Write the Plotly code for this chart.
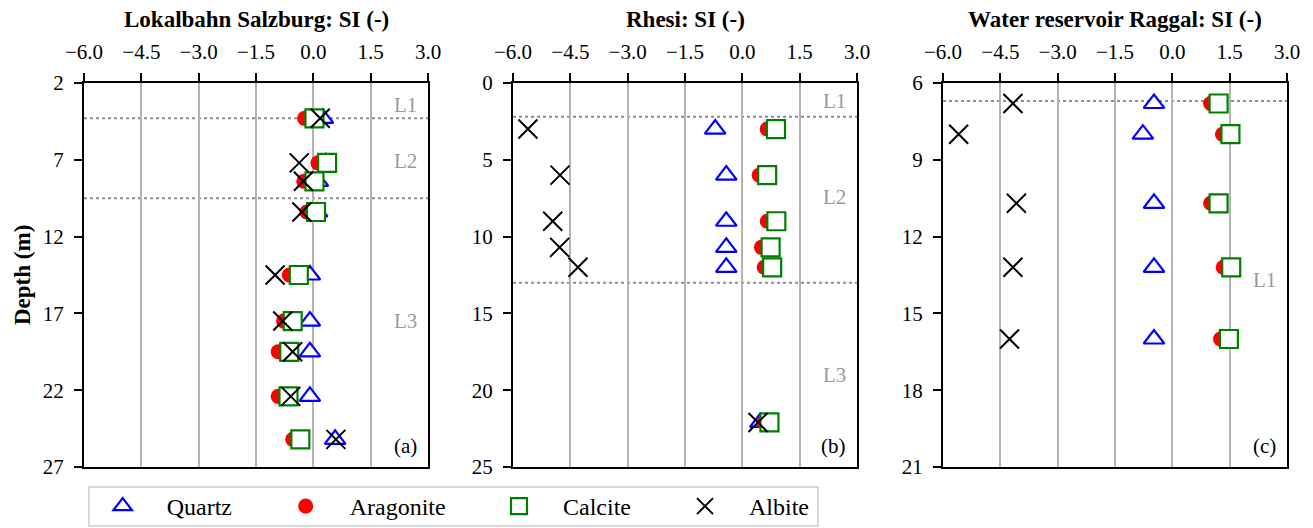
import plotly.graph_objects as go

# ---- data -------------------------------------------------------------
minerals = ["Quartz", "Aragonite", "Calcite", "Albite"]

# Lokalbahn Salzburg
depth_a = [4.3, 7.2, 8.4, 10.4, 14.5, 17.5, 19.5, 22.4, 25.2]
quartz_a = [0.25, 0.33, 0.12, 0.10, -0.09, -0.09, -0.09, -0.09, 0.57]
aragonite_a = [-0.23, 0.12, -0.25, -0.17, -0.63, -0.78, -0.92, -0.92, -0.54]
calcite_a = [0.03, 0.36, 0.03, 0.07, -0.38, -0.54, -0.63, -0.65, -0.34]
albite_a = [0.18, -0.37, -0.26, -0.30, -1.00, -0.80, -0.54, -0.59, 0.59]
layers_a = [4.3, 9.5]
layer_names_a = ["L1", "L2", "L3"]
layer_label_depth_a = [3.4, 7.1, 17.5]

# Rhesi
depth_b = [3.0, 6.0, 9.0, 10.7, 12.0, 22.1]
quartz_b = [-0.71, -0.42, -0.42, -0.42, -0.42, 0.47]
aragonite_b = [0.65, 0.44, 0.65, 0.50, 0.57, 0.56]
calcite_b = [0.88, 0.65, 0.89, 0.74, 0.78, 0.71]
albite_b = [-5.61, -4.77, -4.96, -4.78, -4.30, 0.41]
layers_b = [2.2, 13.0]
layer_names_b = ["L1", "L2", "L3"]
layer_label_depth_b = [1.2, 7.4, 19.0]

# Water reservoir Raggal
depth_c = [6.8, 8.0, 10.7, 13.2, 16.0]
quartz_c = [-0.48, -0.77, -0.48, -0.48, -0.48]
aragonite_c = [1.00, 1.31, 1.00, 1.33, 1.26]
calcite_c = [1.21, 1.52, 1.21, 1.54, 1.48]
albite_c = [-4.17, -5.59, -4.08, -4.17, -4.26]
layers_c = [6.7]
layer_names_c = ["L1"]
layer_label_depth_c = [13.7]

titles = ["Lokalbahn Salzburg: SI (-)", "Rhesi: SI (-)", "Water reservoir Raggal: SI (-)"]
panel_tags = ["(a)", "(b)", "(c)"]

si_ticks = [-6.0, -4.5, -3.0, -1.5, 0.0, 1.5, 3.0]
depth_ticks_a = [2, 7, 12, 17, 22, 27]
depth_ticks_b = [0, 5, 10, 15, 20, 25]
depth_ticks_c = [6, 9, 12, 15, 18, 21]

# ---- figure geometry ----------------------------------------------------
W, H = 1313, 528
FONT = "Liberation Serif"
panel_px = [(84, 428), (513, 857), (943, 1287)]
y_top_px, y_bot_px = 83, 467
y_dom = [1 - y_bot_px / H, 1 - y_top_px / H]


def fmt(v):
    s = f"{abs(v):.1f}"
    return ("\u2212" + s) if v < 0 else s


marker_styles = {
    "Quartz": dict(symbol="triangle-up", size=18, color="white",
                   line=dict(color="#0000ff", width=2.2)),
    "Aragonite": dict(symbol="circle", size=15, color="#ff0000",
                      line=dict(width=0)),
    "Calcite": dict(symbol="square", size=18, color="white",
                    line=dict(color="#008000", width=2.2)),
    "Albite": dict(symbol="x-thin-open", size=19, color="black",
                   line=dict(color="black", width=2)),
}

panels = [
    (depth_a, [quartz_a, aragonite_a, calcite_a, albite_a], layers_a,
     layer_names_a, layer_label_depth_a, depth_ticks_a),
    (depth_b, [quartz_b, aragonite_b, calcite_b, albite_b], layers_b,
     layer_names_b, layer_label_depth_b, depth_ticks_b),
    (depth_c, [quartz_c, aragonite_c, calcite_c, albite_c], layers_c,
     layer_names_c, layer_label_depth_c, depth_ticks_c),
]

# legend entries sit in their own boxes so each one lands at its column
legend_symbol_px = [122.7, 305.7, 519.0, 705.0]
ITEMW = 78
legend_names = ["legend", "legend2", "legend3", "legend4"]

fig = go.Figure()
shapes, annotations = [], []
layout = {}

for p, (depth, series, layers, lnames, ldepths, dticks) in enumerate(panels):
    sfx = "" if p == 0 else str(p + 1)
    xa, ya = "x" + sfx, "y" + sfx
    for k, (name, vals) in enumerate(zip(minerals, series)):
        fig.add_trace(go.Scatter(
            x=vals, y=depth, mode="markers", name=name,
            marker=marker_styles[name], xaxis=xa, yaxis=ya,
            showlegend=(p == 0), legend=legend_names[k],
        ))
    x0, x1 = panel_px[p]
    layout["xaxis" + sfx] = dict(
        domain=[x0 / W, x1 / W], range=[-6, 3], side="top", anchor=ya,
        tickvals=si_ticks, ticktext=[fmt(v) for v in si_ticks],
        ticks="outside", ticklen=8, tickwidth=1.5, tickcolor="black",
        showgrid=True, gridcolor="#b4b4b4", gridwidth=1.5,
        showline=True, linecolor="black", linewidth=2, mirror=True,
        zeroline=False, tickfont=dict(family=FONT, size=21, color="black"),
        ticklabelstandoff=6,
    )
    layout["yaxis" + sfx] = dict(
        domain=y_dom, range=[dticks[-1], dticks[0]], anchor=xa,
        tickvals=dticks, ticks="outside", ticklen=8, tickwidth=1.5,
        tickcolor="black", showgrid=False, showline=True, linecolor="black",
        linewidth=2, mirror=True, zeroline=False,
        tickfont=dict(family=FONT, size=21, color="black"),
        ticklabelstandoff=6,
    )
    for d in layers:
        shapes.append(dict(type="line", xref=xa + " domain", yref=ya,
                           x0=0, x1=1, y0=d, y1=d, layer="below",
                           line=dict(color="#8c8c8c", width=2, dash="dot")))
    for nm, d in zip(lnames, ldepths):
        annotations.append(dict(text=nm, xref=xa + " domain", yref=ya,
                                x=0.975, y=d, xanchor="right", yanchor="middle",
                                showarrow=False,
                                font=dict(family=FONT, size=21, color="#9a9a9a")))
    annotations.append(dict(text=panel_tags[p], xref=xa + " domain",
                            yref=ya + " domain", x=0.975, y=0.055,
                            xanchor="right", yanchor="middle", showarrow=False,
                            font=dict(family=FONT, size=21, color="black")))
    annotations.append(dict(text="<b>" + titles[p] + "</b>", xref="paper",
                            yref="paper", x=(x0 + x1) / 2 / W, y=1 - 20 / H,
                            xanchor="center", yanchor="middle", showarrow=False,
                            font=dict(family=FONT, size=23, color="black")))

annotations.append(dict(text="<b>Depth (m)</b>", xref="paper", yref="paper",
                        x=22 / W, y=1 - 275 / H, textangle=-90,
                        xanchor="center", yanchor="middle", showarrow=False,
                        font=dict(family=FONT, size=23, color="black")))

# frame around the legend row
shapes.append(dict(type="rect", xref="paper", yref="paper",
                   x0=89 / W, x1=818 / W, y0=1 - 526 / H, y1=1 - 487 / H,
                   line=dict(color="#cccccc", width=1.5), fillcolor="white",
                   layer="below"))

for k, ln in enumerate(legend_names):
    layout[ln] = dict(
        x=(legend_symbol_px[k] - (ITEMW + 10) / 2) / W, xanchor="left",
        y=1 - 506.5 / H, yanchor="middle", orientation="h",
        bgcolor="rgba(0,0,0,0)", borderwidth=0, itemwidth=ITEMW,
        font=dict(family=FONT, size=24, color="black"),
    )

fig.update_layout(
    width=W, height=H,
    margin=dict(l=0, r=0, t=0, b=0, autoexpand=False),
    paper_bgcolor="white", plot_bgcolor="white",
    shapes=shapes, annotations=annotations, **layout,
)

fig.write_html("out.html")
